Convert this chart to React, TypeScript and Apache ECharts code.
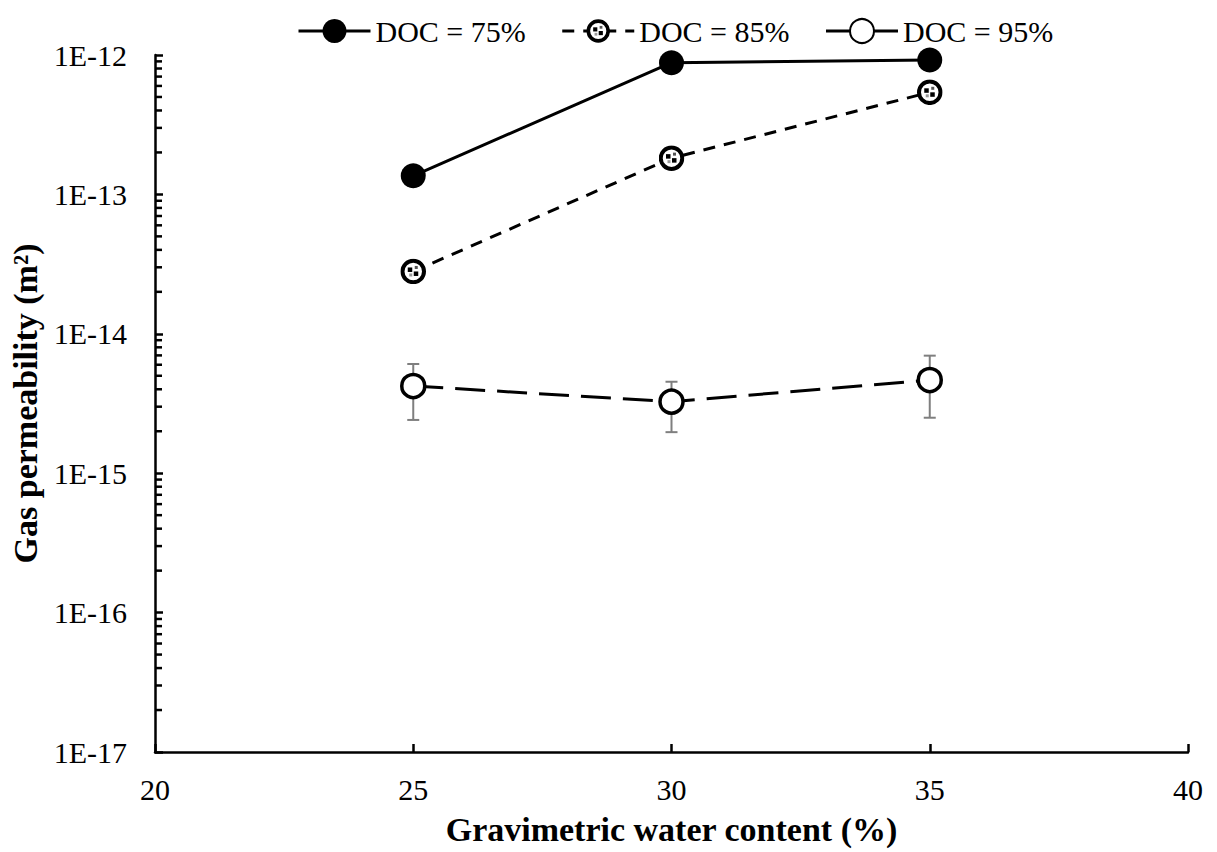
import React, { useEffect, useRef } from "react";
import * as echarts from "echarts";

const xValues = [25, 30, 35];
const doc75 = [1.36e-13, 8.8e-13, 9.2e-13];
const doc85 = [2.8e-14, 1.82e-13, 5.4e-13];
const doc95 = [4.22e-15, 3.26e-15, 4.66e-15];
const doc95Low = [2.41e-15, 1.97e-15, 2.5e-15];
const doc95High = [6.07e-15, 4.53e-15, 6.97e-15];
const seriesNames = ["DOC = 75%", "DOC = 85%", "DOC = 95%"];
const xTicks = { min: 20, max: 40, interval: 5 };
const yRange = { min: 1e-17, max: 1e-12 };
const minorMultipliers = [2, 3, 4, 5, 6, 7, 8, 9];
const minorDecades = [-17, -16, -15, -14, -13];

const FONT = "'Liberation Serif', 'Times New Roman', serif";

const dottedSvg =
  "<svg xmlns='http://www.w3.org/2000/svg' width='52' height='52' viewBox='0 0 52 52'>" +
  "<circle cx='26' cy='26' r='21.5' fill='white' stroke='black' stroke-width='8'/>" +
  "<rect x='15' y='18' width='9' height='9' fill='black'/>" +
  "<rect x='27' y='26' width='9' height='9' fill='black'/>" +
  "<rect x='29' y='15' width='6' height='6' fill='#555'/>" +
  "<rect x='18' y='30' width='6' height='6' fill='#999'/>" +
  "</svg>";
const dottedSymbol = "image://data:image/svg+xml;charset=utf-8," + encodeURIComponent(dottedSvg);

export default function App() {
  const ref = useRef<HTMLDivElement>(null);

  useEffect(() => {
    if (!ref.current) return;
    const chart = echarts.init(ref.current, null, { renderer: "svg" });

    const pairs = (vals: number[]) => xValues.map((x, i) => [x, vals[i]]);
    const minorData: number[][] = [];
    minorDecades.forEach((k) =>
      minorMultipliers.forEach((m) => minorData.push([xTicks.min, m * Math.pow(10, k)]))
    );
    const errData = xValues.map((x, i) => [x, doc95Low[i], doc95High[i]]);

    chart.setOption({
      animation: false,
      backgroundColor: "#ffffff",
      textStyle: { fontFamily: FONT },
      grid: {
        left: 155,
        right: 29,
        top: 55,
        bottom: 100,
        containLabel: false,
        outerBoundsMode: "none",
      },
      legend: {
        data: seriesNames,
        left: 292,
        top: 11,
        itemWidth: 72,
        itemHeight: 30,
        itemGap: 35,
        lineStyle: { width: 3 },
        textStyle: { fontFamily: FONT, fontSize: 30, color: "#000" },
        selectedMode: false,
      },
      xAxis: {
        type: "value",
        min: xTicks.min,
        max: xTicks.max,
        interval: xTicks.interval,
        name: "Gravimetric water content (%)",
        nameLocation: "middle",
        nameGap: 60,
        nameTextStyle: { fontFamily: FONT, fontSize: 34, fontWeight: "bold", color: "#000" },
        axisLine: { show: true, lineStyle: { color: "#000", width: 2.5 } },
        axisTick: { show: true, inside: true, length: 8, lineStyle: { color: "#000", width: 2.5 } },
        axisLabel: { fontFamily: FONT, fontSize: 30, color: "#000", margin: 22 },
        splitLine: { show: false },
      },
      yAxis: {
        type: "log",
        logBase: 10,
        min: yRange.min,
        max: yRange.max,
        name: "Gas permeability (m²)",
        nameLocation: "middle",
        nameRotate: 90,
        nameGap: 108,
        nameTextStyle: { fontFamily: FONT, fontSize: 34, fontWeight: "bold", color: "#000" },
        axisLine: { show: true, lineStyle: { color: "#000", width: 2.5 } },
        axisTick: { show: true, inside: true, length: 8, lineStyle: { color: "#000", width: 2.5 } },
        axisLabel: {
          fontFamily: FONT,
          fontSize: 30,
          color: "#000",
          margin: 28,
          formatter: (v: number) => "1E" + Math.round(Math.log10(v)),
        },
        splitLine: { show: false },
      },
      series: [
        {
          type: "custom",
          name: "minorTicks",
          silent: true,
          z: 3,
          clip: false,
          data: minorData,
          renderItem: (params: any, api: any) => {
            const p = api.coord([api.value(0), api.value(1)]);
            return {
              type: "line",
              shape: { x1: p[0], y1: p[1], x2: p[0] + 7, y2: p[1] },
              style: { stroke: "#000", lineWidth: 2.5 },
            };
          },
        },
        {
          type: "custom",
          name: "errorBars",
          silent: true,
          z: 1,
          data: errData,
          encode: { x: 0, y: [1, 2] },
          renderItem: (params: any, api: any) => {
            const lo = api.coord([api.value(0), api.value(1)]);
            const hi = api.coord([api.value(0), api.value(2)]);
            const w = 6;
            const st = { stroke: "#7f7f7f", lineWidth: 2 };
            return {
              type: "group",
              children: [
                { type: "line", shape: { x1: lo[0], y1: lo[1], x2: hi[0], y2: hi[1] }, style: st },
                { type: "line", shape: { x1: lo[0] - w, y1: lo[1], x2: lo[0] + w, y2: lo[1] }, style: st },
                { type: "line", shape: { x1: hi[0] - w, y1: hi[1], x2: hi[0] + w, y2: hi[1] }, style: st },
              ],
            };
          },
        },
        {
          type: "line",
          name: seriesNames[0],
          z: 2,
          data: pairs(doc75),
          symbol: "circle",
          symbolSize: 25,
          itemStyle: { color: "#000" },
          lineStyle: { color: "#000", width: 3, type: "solid" },
        },
        {
          type: "line",
          name: seriesNames[1],
          z: 2,
          data: pairs(doc85),
          symbol: dottedSymbol,
          symbolSize: 26,
          itemStyle: { color: "#000" },
          lineStyle: { color: "#000", width: 3, type: [12, 9] },
        },
        {
          type: "line",
          name: seriesNames[2],
          z: 2,
          data: pairs(doc95),
          symbol: "circle",
          symbolSize: 23,
          itemStyle: { color: "#fff", borderColor: "#000", borderWidth: 3.5 },
          lineStyle: { color: "#000", width: 3, type: [30, 12] },
        },
      ],
    });

    return () => chart.dispose();
  }, []);

  return (
    <div
      ref={ref}
      style={{ position: "fixed", left: 0, top: 0, width: 1217, height: 852, background: "#fff" }}
    />
  );
}
